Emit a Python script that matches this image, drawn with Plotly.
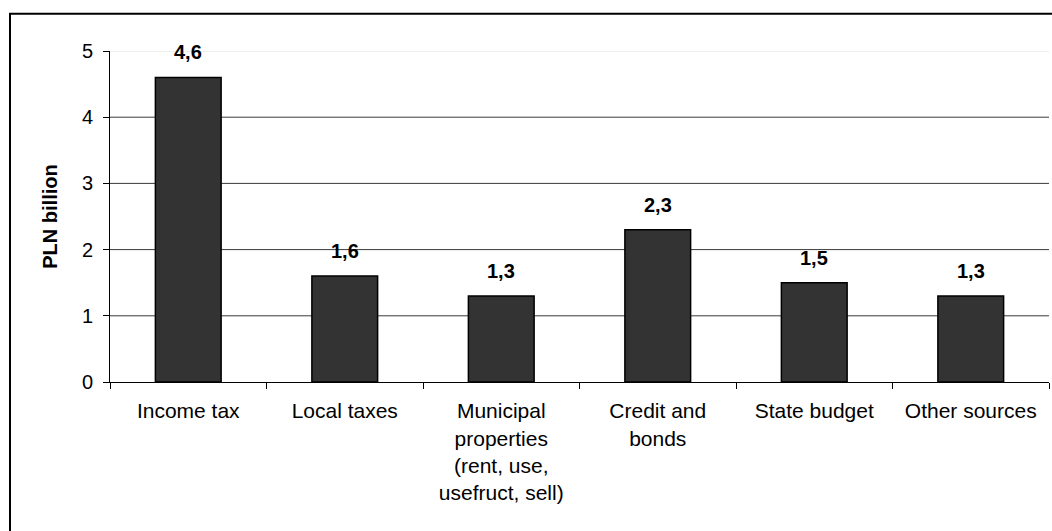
import plotly.graph_objects as go

categories = ["Income tax", "Local taxes",
              "Municipal<br>properties<br>(rent, use,<br>usefruct, sell)",
              "Credit and<br>bonds", "State budget", "Other sources"]
values = [4.6, 1.6, 1.3, 2.3, 1.5, 1.3]
y_ticks = [0, 1, 2, 3, 4, 5]
y_title = "PLN billion"

FONT = "Liberation Sans, Arial, sans-serif"

fig = go.Figure()
fig.add_trace(go.Bar(
    x=categories, y=values,
    marker=dict(color="#333333", line=dict(color="#000000", width=1.5)),
    hoverinfo="skip",
))

# data labels
for c, v in zip(categories, values):
    fig.add_annotation(
        x=c, y=v, xref="x", yref="y",
        text="<b>" + f"{v:.1f}".replace(".", ",") + "</b>",
        showarrow=False, yanchor="middle", yshift=25,
        font=dict(family=FONT, size=20, color="#000000"),
    )

# gridlines
shapes = []
for t in y_ticks[1:]:
    shapes.append(dict(
        type="line", xref="paper", yref="y", x0=0, x1=1, y0=t, y1=t,
        line=dict(color="#dddddd" if t == y_ticks[-1] else "#3a3a3a", width=1),
        layer="below",
    ))
# outer chart frame
shapes.append(dict(
    type="rect", xref="paper", yref="paper",
    x0=-0.1065, x1=1.5, y0=-1.0, y1=1.1128,
    line=dict(color="#000000", width=2), fillcolor="rgba(0,0,0,0)",
    layer="above",
))

fig.update_layout(
    width=1052, height=531,
    margin=dict(l=110, r=3, t=51, b=149),
    paper_bgcolor="white", plot_bgcolor="white",
    bargap=0.58,
    showlegend=False,
    shapes=shapes,
    font=dict(family=FONT, color="#000000"),
    xaxis=dict(
        showline=True, linecolor="#000000", linewidth=1,
        ticks="outside", tickson="boundaries", ticklen=6, tickcolor="#000000",
        tickfont=dict(family=FONT, size=21, color="#000000"),
        ticklabelstandoff=10,
        showgrid=False, fixedrange=True,
    ),
    yaxis=dict(
        range=[0, 5], tickvals=y_ticks,
        showline=True, linecolor="#000000", linewidth=1,
        ticks="outside", ticklen=6, tickcolor="#000000",
        tickfont=dict(family=FONT, size=20, color="#000000"),
        ticklabelstandoff=6,
        showgrid=False, zeroline=False,
        title=dict(text="<b>" + y_title + "</b>", standoff=18,
                   font=dict(family=FONT, size=20, color="#000000")),
        fixedrange=True,
    ),
)

fig.write_html("out.html")
